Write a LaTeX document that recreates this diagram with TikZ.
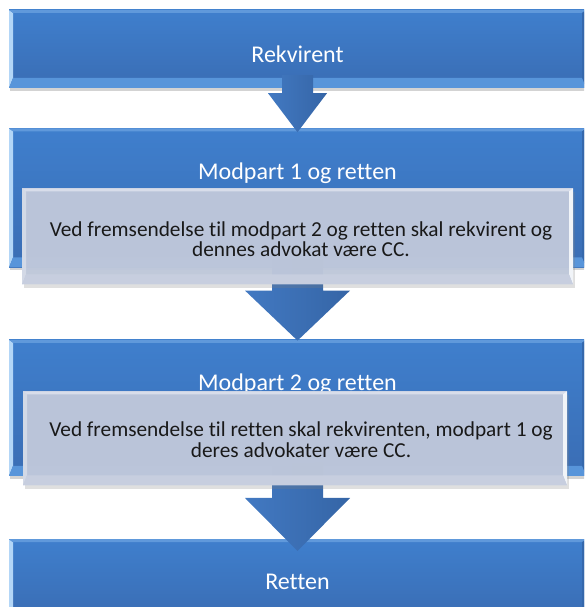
\documentclass[tikz,border=0pt]{standalone}
\usepackage{fontspec}
\setmainfont{Carlito}[Ligatures=NoCommon]
\usetikzlibrary{positioning,calc,shadows}

\definecolor{boxtop}{HTML}{3F7FCD}
\definecolor{boxbot}{HTML}{3A6DB4}
\definecolor{boxleft}{HTML}{B3D6F7}
\definecolor{boxupper}{HTML}{6099DB}
\definecolor{boxright}{HTML}{3568AC}
\definecolor{boxlower}{HTML}{5895DA}
\definecolor{notefill}{HTML}{BFC8DB}
\definecolor{noteleft}{HTML}{D4DAE7}
\definecolor{noteupper}{HTML}{DADFEB}
\definecolor{noteright}{HTML}{F4F6FA}
\definecolor{notelower}{HTML}{C8CFE0}
\definecolor{arrowleft}{HTML}{4279C2}
\definecolor{arrowright}{HTML}{3565A6}

\tikzset{
  bevel/.style n args={4}{path picture={
    \fill[#1] (path picture bounding box.north west) -- (path picture bounding box.south west)
      -- ([shift={(4pt,10pt)}]path picture bounding box.south west) -- ([shift={(4pt,-3pt)}]path picture bounding box.north west) -- cycle;
    \fill[#2] (path picture bounding box.north west) -- (path picture bounding box.north east)
      -- ([shift={(-4pt,-3pt)}]path picture bounding box.north east) -- ([shift={(4pt,-3pt)}]path picture bounding box.north west) -- cycle;
    \fill[#3] (path picture bounding box.north east) -- (path picture bounding box.south east)
      -- ([shift={(-4pt,10pt)}]path picture bounding box.south east) -- ([shift={(-4pt,-3pt)}]path picture bounding box.north east) -- cycle;
    \fill[#4] (path picture bounding box.south west) -- (path picture bounding box.south east)
      -- ([shift={(-4pt,10pt)}]path picture bounding box.south east) -- ([shift={(4pt,10pt)}]path picture bounding box.south west) -- cycle;
  }},
  blockarrow/.style n args={3}{to path={let \p1=(\tikztostart), \p2=(\tikztotarget) in
    (\x1-#1/2,\y1) -- (\x1-#1/2,\y2+#3) -- (\x1-#2/2,\y2+#3) -- (\x1,\y2)
    -- (\x1+#2/2,\y2+#3) -- (\x1+#1/2,\y2+#3) -- (\x1+#1/2,\y1) -- cycle}}
}

\begin{document}
\begin{tikzpicture}[x=1pt,y=1pt]
  \tikzstyle{stage}=[draw=none, inner sep=0pt, minimum width=577pt, top color=boxtop, bottom color=boxbot,
    bevel={boxleft}{boxupper}{boxright}{boxlower},
    drop shadow={shadow xshift=1pt, shadow yshift=-3pt, opacity=0.35}]
  \tikzstyle{stagelabel}=[text=white, font=\fontsize{24}{28}\selectfont, anchor=base, inner sep=0pt]
  \tikzstyle{note}=[draw=none, inner sep=0pt, anchor=north, fill=notefill, fill opacity=0.96,
    bevel={noteleft}{noteupper}{noteright}{notelower},
    drop shadow={shadow xshift=2pt, shadow yshift=-4pt, opacity=0.25}]
  \tikzstyle{notetext}=[text=black!90, font=\fontsize{21.3}{20.5}\selectfont, align=center, inner sep=0pt]
  \tikzstyle{flowarrow}=[left color=arrowleft, right color=arrowright]

  \useasboundingbox (0,0) rectangle (584,607);
  \clip (0,0) rectangle (584,607);

  \node[stage, minimum height=78pt] (rek) at (297.5,558) {};
  \node[stage, minimum height=139pt, below=40pt of rek] (mod1) {};
  \node[stage, minimum height=136pt, below=72pt of mod1] (mod2) {};
  \node[stage, minimum height=78pt, below=63pt of mod2] (ret) {};

  \node[stagelabel] (rektxt) at ([yshift=-53pt]rek.north) {Rekvirent};
  \node[stagelabel] (mod1txt) at ([yshift=-51pt]mod1.north) {Modpart 1 og retten};
  \node[stagelabel] (mod2txt) at ([yshift=-51pt]mod2.north) {Modpart 2 og retten};
  \node[stagelabel] (rettxt) at ([yshift=-51pt]ret.north) {Retten};

  \coordinate (a1s) at ([yshift=13pt]rek.south);
  \coordinate (a1t) at ([yshift=-4pt]mod1.north);
  \coordinate (a2s) at ([yshift=9pt]mod1.south);
  \coordinate (a2t) at ([yshift=-1pt]mod2.north);
  \coordinate (a3s) at ([yshift=13pt]mod2.south);
  \coordinate (a3t) at ([yshift=-12pt]ret.north);
  \shade[flowarrow] (a1s) to[blockarrow={31pt}{59pt}{39pt}] (a1t);
  \shade[flowarrow] (a2s) to[blockarrow={51pt}{105pt}{50pt}] (a2t);
  \shade[flowarrow] (a3s) to[blockarrow={51pt}{105pt}{53pt}] (a3t);

  \node[note, minimum width=551pt, minimum height=96pt] (note1) at ([yshift=-60pt]mod1.north) {};
  \node[note, minimum width=544pt, minimum height=94pt] (note2) at ([xshift=-2.5pt,yshift=-51.5pt]mod2.north) {};
  \node[notetext] (note1txt) at ([xshift=3.5pt,yshift=-51pt]note1.north)
    {Ved fremsendelse til modpart 2 og retten skal rekvirent og\\dennes advokat være CC.};
  \node[notetext] (note2txt) at ([xshift=6pt,yshift=-48.5pt]note2.north)
    {Ved fremsendelse til retten skal rekvirenten, modpart 1 og\\deres advokater være CC.};
\end{tikzpicture}
\end{document}
